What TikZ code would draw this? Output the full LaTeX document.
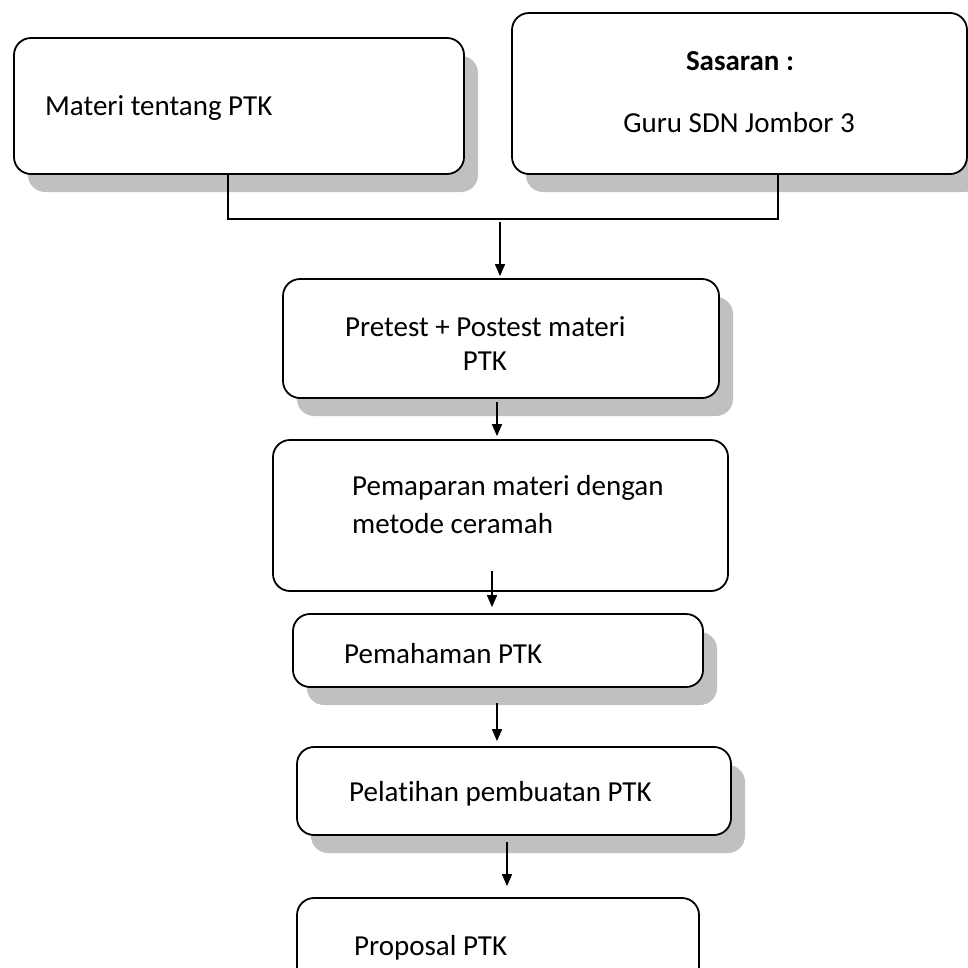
\documentclass[tikz,border=0pt]{standalone}
\usepackage{fontspec}
\setmainfont[Ligatures={NoCommon}]{Carlito}
\usetikzlibrary{shadows,arrows.meta}
\definecolor{shadowgray}{RGB}{192,192,192}
\tikzset{
  box/.style={draw=black, line width=1.8pt, rounded corners=17pt, fill=white, inner sep=0pt, minimum width=#1},
  shadowed/.style={drop shadow={shadow xshift=14pt, shadow yshift=-18pt, fill=shadowgray, opacity=1}},
  txt/.style={inner sep=0pt, font=\fontsize{29}{34}\selectfont},
  arr/.style={line width=1.6pt, -{Triangle[width=10pt,length=12pt]}},
  conn/.style={line width=1.8pt}
}
\begin{document}
\begin{tikzpicture}[x=1pt,y=-1pt]
\useasboundingbox (0,0) rectangle (968,967);
% boxes
\node[box=450pt, shadowed, minimum height=136pt] (b1) at (239,106) {};
\node[box=455pt, shadowed, minimum height=161pt] (b2) at (739.5,93.5) {};
\node[box=436pt, shadowed, minimum height=119pt] (b3) at (501,338.5) {};
\node[box=455pt, minimum height=151pt] (b4) at (500.5,515.5) {};
\node[box=410pt, shadowed, minimum height=73pt] (b5) at (498,650.5) {};
\node[box=434pt, shadowed, minimum height=88pt] (b6) at (514,791) {};
\node[box=402pt, minimum height=92pt] (b7) at (498,944) {};
% texts
\node[txt, anchor=base west] (t1) at (45,115) {Materi tentang PTK};
\node[txt, anchor=base, font=\fontsize{29}{34}\selectfont\bfseries] (t2a) at (740,70) {Sasaran :};
\node[txt, anchor=base] (t2b) at (739,132) {Guru SDN Jombor 3};
\node[txt, anchor=base west] (t3a) at (345,336) {Pretest + Postest materi};
\node[txt, anchor=base] (t3b) at (485,370) {PTK};
\node[txt, anchor=base west] (t4a) at (352,495) {Pemaparan materi dengan};
\node[txt, anchor=base west] (t4b) at (352,533) {metode ceramah};
\node[txt, anchor=base west] (t5) at (344,663) {Pemahaman PTK};
\node[txt, anchor=base west] (t6) at (349,801) {Pelatihan pembuatan PTK};
\node[txt, anchor=base west] (t7) at (354,955) {Proposal PTK};
% connectors
\coordinate (c1) at (228,219);
\coordinate (c2) at (778,219);
\draw[conn] (b1.south -| c1) -- (c1) -- (c2) -- (b2.south -| c2);
\coordinate (a1) at (500,222);
\draw[arr, shorten >=2pt] (a1) -- (b3.north -| a1);
\coordinate (a2) at (497,402);
\draw[arr, shorten >=3pt] (a2) -- (b4.north -| a2);
\coordinate (a3) at (492,571);
\draw[arr, shorten >=6pt] (a3) -- (b5.north -| a3);
\coordinate (a4) at (497,703);
\draw[arr, shorten >=5pt] (a4) -- (b6.north -| a4);
\coordinate (a5) at (507,842);
\draw[arr, shorten >=11pt] (a5) -- (b7.north -| a5);
\end{tikzpicture}
\end{document}
